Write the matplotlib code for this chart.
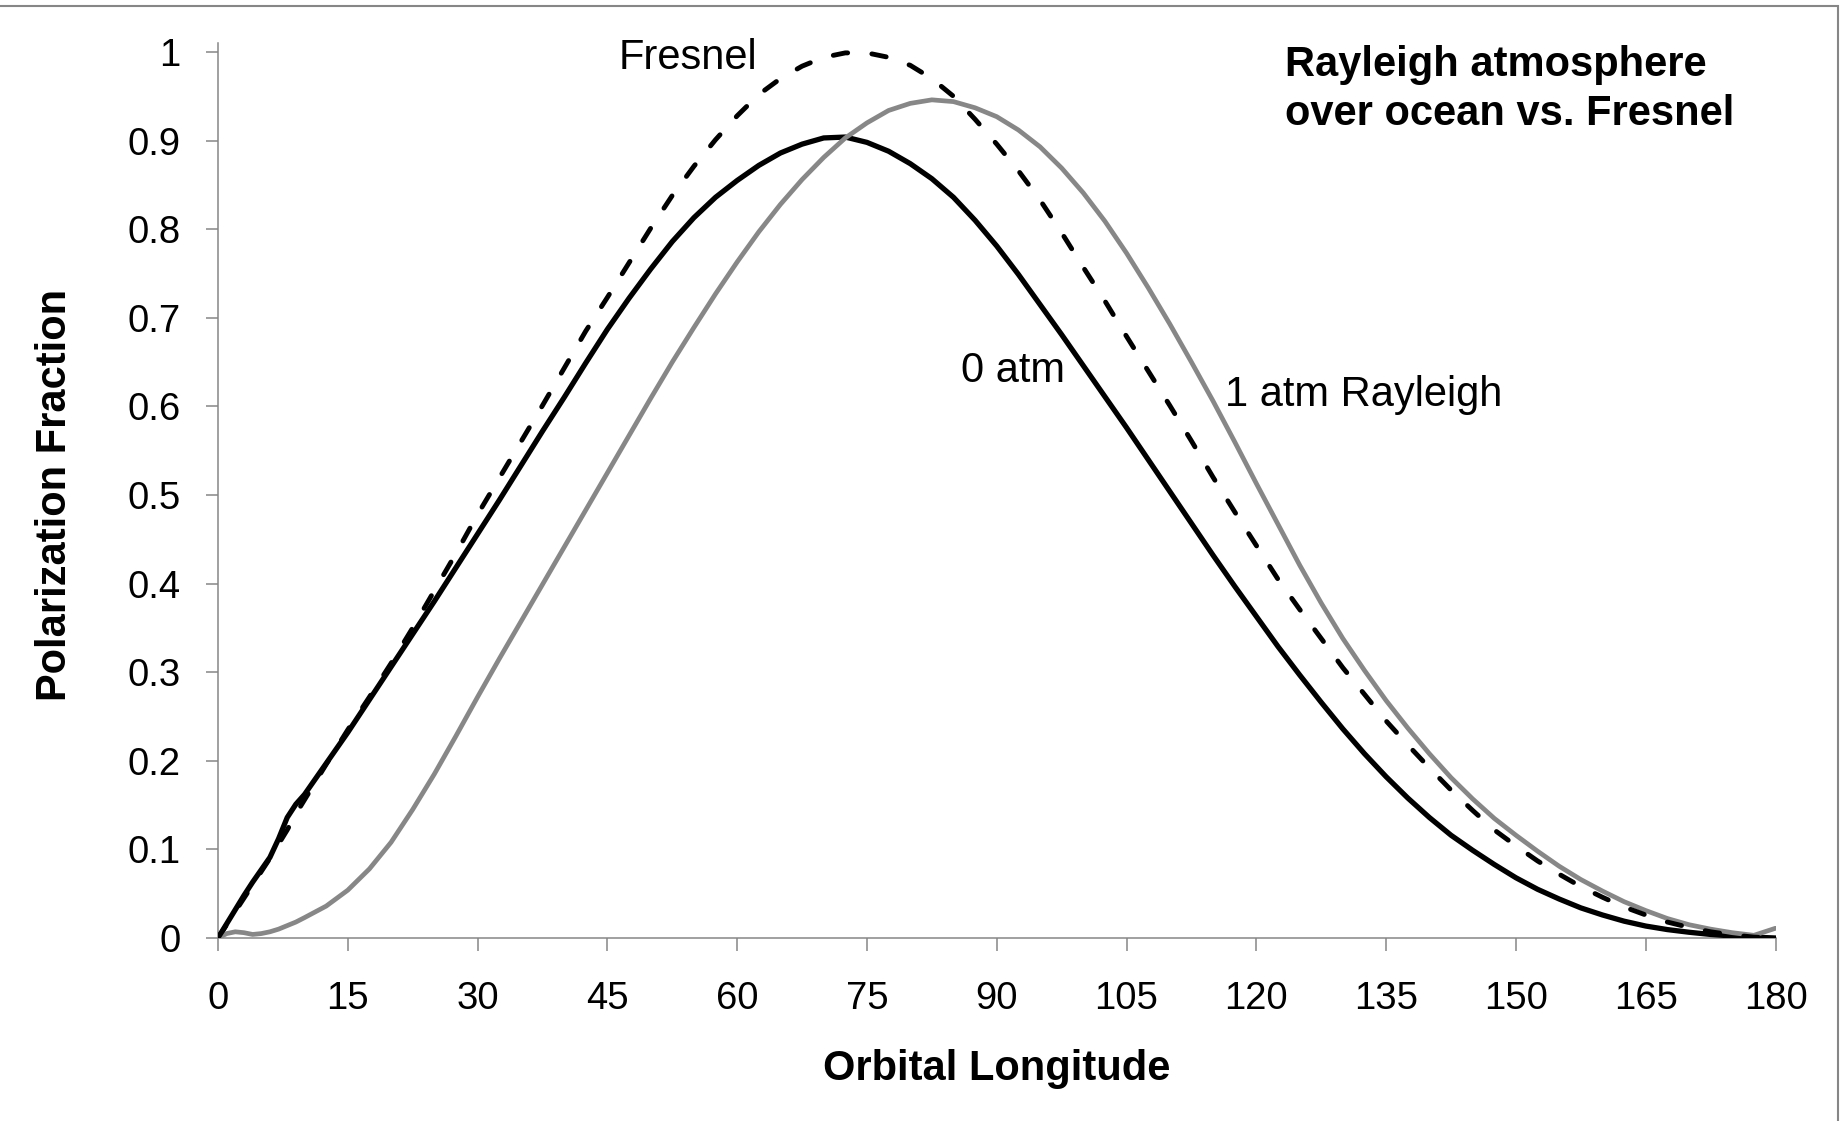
import matplotlib
matplotlib.use("Agg")
import matplotlib.pyplot as plt
from matplotlib.patches import Rectangle

plt.rcParams['font.family'] = ['Liberation Sans', 'DejaVu Sans']

# ---------------- data ----------------
longitude = [0, 1, 2, 3, 4, 5, 6, 7, 8, 9, 10,
             12.5, 15, 17.5, 20, 22.5, 25, 27.5, 30, 32.5, 35, 37.5, 40, 42.5, 45,
             47.5, 50, 52.5, 55, 57.5, 60, 62.5, 65, 67.5, 70, 72.5, 75, 77.5, 80,
             82.5, 85, 87.5, 90, 92.5, 95, 97.5, 100, 102.5, 105, 107.5, 110, 112.5,
             115, 117.5, 120, 122.5, 125, 127.5, 130, 132.5, 135, 137.5, 140, 142.5,
             145, 147.5, 150, 152.5, 155, 157.5, 160, 162.5, 165, 167.5, 170, 172.5,
             175, 177.5, 180]

pol_0atm = [0, 0.016, 0.032, 0.048, 0.063, 0.077, 0.091, 0.112, 0.136, 0.151, 0.162,
            0.197, 0.232, 0.269, 0.306, 0.343, 0.380, 0.418, 0.456, 0.494, 0.533,
            0.572, 0.610, 0.649, 0.687, 0.722, 0.755, 0.786, 0.813, 0.836, 0.855,
            0.872, 0.886, 0.896, 0.903, 0.904, 0.898, 0.888, 0.874, 0.857, 0.836,
            0.810, 0.781, 0.749, 0.715, 0.681, 0.646, 0.611, 0.576, 0.540, 0.504,
            0.468, 0.432, 0.397, 0.363, 0.329, 0.297, 0.266, 0.236, 0.208, 0.182,
            0.158, 0.136, 0.116, 0.099, 0.083, 0.068, 0.055, 0.044, 0.034, 0.026,
            0.019, 0.0135, 0.0095, 0.0065, 0.004, 0.0023, 0.001, 0.0]

pol_fresnel = [0, 0.015, 0.030, 0.045, 0.060, 0.075, 0.090, 0.106, 0.122, 0.140, 0.156,
               0.196, 0.235, 0.272, 0.310, 0.350, 0.392, 0.434, 0.478, 0.519, 0.560,
               0.601, 0.643, 0.685, 0.723, 0.762, 0.801, 0.838, 0.871, 0.901, 0.928,
               0.952, 0.970, 0.984, 0.994, 0.999, 0.999, 0.994, 0.985, 0.970, 0.950,
               0.924, 0.896, 0.866, 0.833, 0.796, 0.757, 0.719, 0.679, 0.640, 0.601,
               0.561, 0.520, 0.481, 0.443, 0.405, 0.371, 0.338, 0.305, 0.275, 0.245,
               0.218, 0.192, 0.167, 0.144, 0.122, 0.104, 0.087, 0.072, 0.058, 0.046,
               0.035, 0.026, 0.018, 0.012, 0.007, 0.0035, 0.001, 0.0]

pol_1atm = [0, 0.005, 0.007, 0.006, 0.004, 0.005, 0.007, 0.010, 0.014, 0.018, 0.023,
            0.036, 0.054, 0.078, 0.108, 0.145, 0.185, 0.228, 0.272, 0.315, 0.357,
            0.399, 0.441, 0.483, 0.525, 0.567, 0.609, 0.650, 0.689, 0.727, 0.763,
            0.797, 0.828, 0.856, 0.881, 0.903, 0.920, 0.934, 0.942, 0.946, 0.944,
            0.937, 0.927, 0.912, 0.893, 0.869, 0.841, 0.809, 0.773, 0.734, 0.693,
            0.650, 0.606, 0.560, 0.513, 0.467, 0.421, 0.378, 0.338, 0.302, 0.268,
            0.237, 0.208, 0.181, 0.157, 0.135, 0.116, 0.098, 0.081, 0.066, 0.053,
            0.041, 0.031, 0.022, 0.015, 0.010, 0.006, 0.003, 0.011]

x_ticks = [0, 15, 30, 45, 60, 75, 90, 105, 120, 135, 150, 165, 180]
y_ticks = [0, 0.1, 0.2, 0.3, 0.4, 0.5, 0.6, 0.7, 0.8, 0.9, 1]
y_tick_labels = ['0', '0.1', '0.2', '0.3', '0.4', '0.5', '0.6', '0.7', '0.8', '0.9', '1']

# ---------------- figure ----------------
W, H = 1848, 1121
fig = plt.figure(figsize=(W / 100, H / 100), dpi=100)
ax = fig.add_axes([218 / W, (H - 938) / H, 1557.5 / W, 895 / H])

axis_gray = '#868686'
ax.plot(longitude, pol_0atm, color='black', lw=3.8, solid_capstyle='round',
        solid_joinstyle='round', zorder=3)
ax.plot(longitude, pol_1atm, color='#878787', lw=3.4, solid_capstyle='round',
        solid_joinstyle='round', zorder=4)
ax.plot(longitude, pol_fresnel, color='black', lw=3.5, dashes=(3.0, 5.0),
        dash_capstyle='round', zorder=5)

ax.set_xlim(0, 180)
ax.set_ylim(0, 895 / 886)
ax.set_xticks(x_ticks)
ax.set_xticklabels([str(t) for t in x_ticks])
ax.set_yticks(y_ticks)
ax.set_yticklabels(y_tick_labels)

for s in ['top', 'right']:
    ax.spines[s].set_visible(False)
for s in ['left', 'bottom']:
    ax.spines[s].set_color(axis_gray)
    ax.spines[s].set_linewidth(1.1)

ax.tick_params(axis='both', colors=axis_gray, labelcolor='black', width=1.1,
               length=9, direction='out', labelsize=27.5)
ax.tick_params(axis='x', pad=22)
ax.tick_params(axis='y', pad=18)

ax.set_xlabel('Orbital Longitude', fontsize=30, fontweight='bold', va='center')
ax.xaxis.set_label_coords(0.5, (938 - 1069) / 895)
ax.set_ylabel('Polarization Fraction', fontsize=30, fontweight='bold', va='center')
ax.yaxis.set_label_coords((55 - 218) / 1557.5, (938 - 495) / 895)

ax.text(46.3, 0.9805, 'Fresnel', fontsize=30, ha='left', va='baseline')
ax.text(85.9, 0.628, '0 atm', fontsize=30, ha='left', va='baseline')
ax.text(116.4, 0.6007, '1 atm Rayleigh', fontsize=30, ha='left', va='baseline')
ax.text(123.3, 0.973, 'Rayleigh atmosphere', fontsize=30, fontweight='bold',
        ha='left', va='baseline')
ax.text(123.3, 0.9176, 'over ocean vs. Fresnel', fontsize=30, fontweight='bold',
        ha='left', va='baseline')

# chart-area border (only top and right visible in the reference)
fig.patches.append(Rectangle((-0.02, -0.02), 1838 / W + 0.02, (H - 6) / H + 0.02,
                             transform=fig.transFigure, fill=False,
                             edgecolor=axis_gray, lw=1.5))

fig.savefig('out.png', dpi=100)
